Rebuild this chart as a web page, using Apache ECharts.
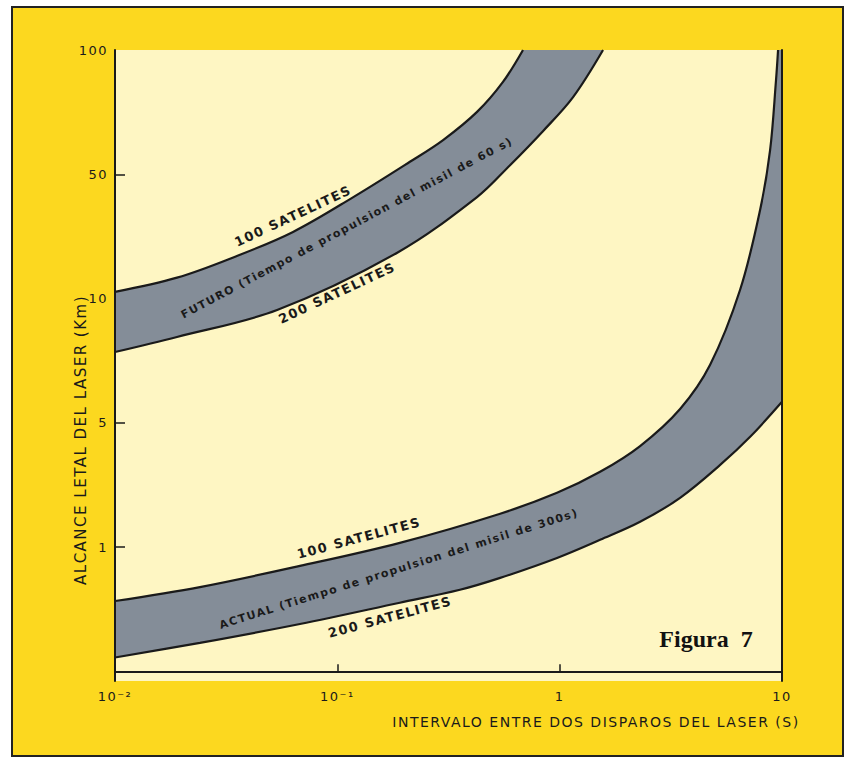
<!DOCTYPE html>
<html>
<head>
<meta charset="utf-8">
<script src="https://cdn.jsdelivr.net/npm/echarts@6/dist/echarts.min.js"></script>
<style>
  html, body { margin: 0; padding: 0; background: #ffffff; }
  #chart { width: 851px; height: 762px; }
  /* stencil-style lettering: wide letter spacing on the chart text */
  #chart svg text { letter-spacing: 1.5px; }
  #chart svg text[style*="Serif"], #chart svg text[font-family*="Serif"] { letter-spacing: 0; }
</style>
</head>
<body>
<div id="chart"></div>
<script>
// Interval between two laser shots (s) – log axis ticks
const secondsTicks = [0.01, 0.1, 1, 10];
const secondsTickLabels = ['10⁻²', '10⁻¹', '1', '10'];

// Lethal range scale (km): one axis step between consecutive breakpoints
const rangeScaleKm = [0.5, 1, 5, 10, 50, 100];
const rangeTickKm = [1, 5, 10, 50, 100];
const rangeTickLabels = ['1', '5', '10', '50', '100'];
const rangeMarkKm = [1, 5, 50];

// FUTURO band (missile boost time 60 s)
const futuro100X  = [0.01, 0.019, 0.0347, 0.0632, 0.118, 0.212, 0.299, 0.425, 0.556, 0.684];
const futuro100Km = [10.9, 13.1, 17.2, 23.7, 37.2, 53.6, 60.5, 70.8, 83.7, 100];
const futuro200X  = [0.01, 0.019, 0.0536, 0.186, 0.425, 0.598, 0.841, 1.149, 1.567];
const futuro200Km = [7.42, 8.07, 9.38, 18.1, 37.2, 52.6, 63.6, 76.9, 100];

// ACTUAL band (missile boost time 300 s)
const actual100X  = [0.01, 0.0241, 0.0679, 0.191, 0.540, 0.973, 1.52, 2.30, 3.48, 4.75, 6.48, 7.97, 8.84, 9.40, 9.60];
const actual100Km = [0.74, 0.80, 0.90, 1.056, 1.54, 2.02, 2.65, 3.70, 5.40, 6.91, 11.2, 31.5, 57.2, 84.6, 100];
const actual200X  = [0.01, 0.0241, 0.0679, 0.191, 0.356, 0.540, 0.973, 1.52, 2.30, 3.48, 5.27, 7.19, 10];
const actual200Km = [0.54, 0.586, 0.651, 0.733, 0.788, 0.842, 0.941, 1.098, 1.386, 1.893, 2.897, 4.17, 5.62];

const YELLOW = '#fcd81f';
const CREAM = '#fef6c3';
const BAND = '#848d98';
const INK = '#1a1a1a';
const FONT = 'DejaVu Sans';

// position of a range value on the stepped scale
function kmToStep(km) {
  const n = rangeScaleKm.length;
  for (let i = 0; i < n - 1; i++) {
    const a = rangeScaleKm[i], b = rangeScaleKm[i + 1];
    if (km <= b || i === n - 2) return i + Math.log(km / a) / Math.log(b / a);
  }
}

function curve(xs, kms) {
  return xs.map((x, i) => [x, kmToStep(kms[i])]);
}

function secondsLabel(v) {
  const i = secondsTicks.findIndex(t => Math.abs(Math.log10(t) - Math.log10(v)) < 1e-6);
  return i < 0 ? '' : secondsTickLabels[i];
}

function rangeLabel(v) {
  const i = rangeTickKm.findIndex(t => Math.abs(kmToStep(t) - v) < 1e-6);
  return i < 0 ? '' : rangeTickLabels[i];
}

// boundary of a band: the area is filled from the curve up to the top of the plot
function boundary(name, xs, kms, fill) {
  return {
    name: name,
    type: 'line',
    data: curve(xs, kms),
    smooth: 0.35,
    showSymbol: false,
    silent: true,
    clip: true,
    lineStyle: { color: INK, width: 2.2 },
    areaStyle: { color: fill, opacity: 1, origin: 'end' }
  };
}

function bandText(text, x, y, deg, size) {
  return {
    type: 'text', x: x, y: y, rotation: deg * Math.PI / 180, silent: true, z: 20,
    style: {
      text: text, fill: INK, font: 'bold ' + size + 'px "' + FONT + '"',
      textAlign: 'center', textVerticalAlign: 'middle'
    }
  };
}

const chart = echarts.init(document.getElementById('chart'), null, { renderer: 'svg' });

const yMin = -0.078;
const yMax = kmToStep(100);

chart.setOption({
  animation: false,
  backgroundColor: 'transparent',
  grid: { left: 115, right: 69, top: 50, bottom: 81, show: true, backgroundColor: CREAM, borderWidth: 0 },
  xAxis: [
    {
      type: 'log', logBase: 10, min: 0.01, max: 10, z: 5,
      axisLine: { show: true, lineStyle: { color: INK, width: 2 } },
      axisTick: { show: true, inside: true, length: 7, lineStyle: { color: INK, width: 1.5 } },
      minorTick: { show: false },
      splitLine: { show: false },
      axisLabel: {
        formatter: secondsLabel, color: '#1a1a1a', fontSize: 13, fontFamily: FONT,
        margin: 9, showMinLabel: true, showMaxLabel: true
      }
    },
    {
      type: 'log', logBase: 10, min: 0.01, max: 10, position: 'top', z: 5,
      axisLine: { show: true, lineStyle: { color: INK, width: 2 } },
      axisTick: { show: false }, axisLabel: { show: false }, splitLine: { show: false }
    }
  ],
  yAxis: [
    {
      type: 'value', min: yMin, max: yMax, z: 5,
      axisLine: { show: true, lineStyle: { color: INK, width: 2 } },
      axisTick: {
        show: true, inside: true, length: 10,
        customValues: rangeMarkKm.map(kmToStep),
        lineStyle: { color: INK, width: 1.5 }
      },
      splitLine: { show: false },
      axisLabel: {
        customValues: rangeTickKm.map(kmToStep),
        formatter: rangeLabel, color: '#1a1a1a', fontSize: 13, fontFamily: FONT, margin: 7
      }
    },
    {
      type: 'value', min: yMin, max: yMax, position: 'right', z: 5,
      axisLine: { show: true, lineStyle: { color: INK, width: 2 } },
      axisTick: { show: false }, axisLabel: { show: false }, splitLine: { show: false }
    }
  ],
  graphic: [
    {
      type: 'rect', z: -10, silent: true,
      shape: { x: 12, y: 7, width: 831, height: 749 },
      style: { fill: YELLOW, stroke: '#222', lineWidth: 2 }
    },
    {
      type: 'text', x: 81, y: 440, rotation: Math.PI / 2, silent: true,
      style: {
        text: 'ALCANCE LETAL DEL LASER (Km)', fill: '#1a1a1a', font: '15px "' + FONT + '"',
        textAlign: 'center', textVerticalAlign: 'middle'
      }
    },
    {
      type: 'text', x: 596, y: 722, silent: true,
      style: {
        text: 'INTERVALO ENTRE DOS DISPAROS DEL LASER (S)', fill: '#1a1a1a', font: '14px "' + FONT + '"',
        textAlign: 'center', textVerticalAlign: 'middle'
      }
    },
    bandText('100 SATELITES', 293, 216, 25, 13),
    bandText('FUTURO (Tiempo de propulsion del misil de 60 s)', 347, 228, 28, 11),
    bandText('200 SATELITES', 337, 293, 25, 13),
    bandText('100 SATELITES', 359, 538, 15, 13),
    bandText('ACTUAL (Tiempo de propulsion del misil de 300s)', 399, 569, 17.5, 11),
    bandText('200 SATELITES', 390, 617, 15, 13),
    {
      type: 'text', x: 706, y: 639, silent: true, z: 20,
      style: {
        text: 'Figura\u00a0\u00a07', fill: '#111', font: 'bold 24px "Liberation Serif"',
        textAlign: 'center', textVerticalAlign: 'middle'
      }
    }
  ],
  series: [
    boundary('ACTUAL 200 satélites', actual200X, actual200Km, BAND),
    boundary('ACTUAL 100 satélites', actual100X, actual100Km, CREAM),
    boundary('FUTURO 200 satélites', futuro200X, futuro200Km, BAND),
    boundary('FUTURO 100 satélites', futuro100X, futuro100Km, CREAM)
  ]
});
</script>
</body>
</html>
